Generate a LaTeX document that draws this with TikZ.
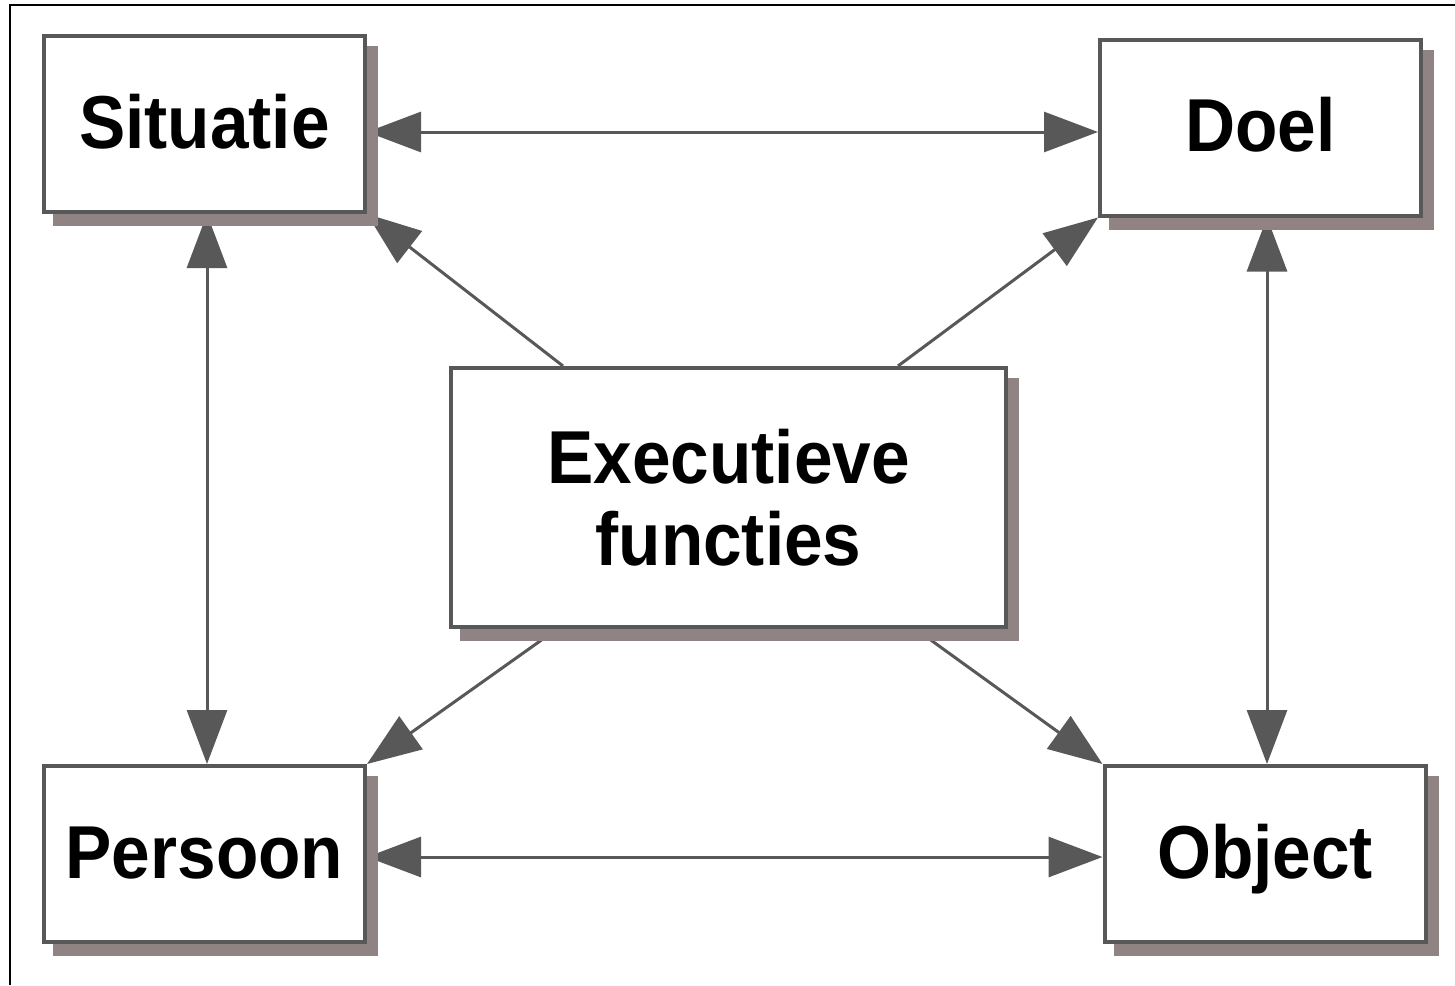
\documentclass[tikz,border=0pt]{standalone}
\usepackage{fontspec}
\newfontfamily\boxfont[FakeStretch=0.925]{Liberation Sans}
\usetikzlibrary{arrows.meta}
\pgfdeclarelayer{bg}
\pgfsetlayers{bg,main}

\definecolor{edgegrey}{RGB}{88,88,88}
\definecolor{shadowc}{RGB}{143,131,131}

\tikzset{
  box/.style={
    draw=edgegrey, line width=4pt, fill=white, rectangle,
    font=\boxfont\bfseries\fontsize{75}{82}\selectfont, text=black,
    align=center, inner sep=0pt,
    preaction={fill=shadowc, draw=shadowc, line width=4pt,
               transform canvas={shift={(11pt,-12pt)}}}
  },
  smallbox/.style={box, minimum width=321pt, minimum height=176pt,
                   text height=48pt, text depth=0pt},
  link/.style={draw=edgegrey, line width=3pt,
               >={Triangle[length=54pt,width=40pt]}}
}

\begin{document}
\begin{tikzpicture}[x=1pt,y=-1pt]
  \useasboundingbox (0,0) rectangle (1455,985);

  % frame lines along the top and left edge
  \draw[line width=2pt, black] (10,985) -- (10,5) -- (1455,5);

  % boxes
  \node[smallbox] (sit)  at (204.5,124)  {Situatie};
  \node[smallbox] (doel) at (1260.5,127.5) {Doel};
  \node[smallbox] (pers) at (204.5,854)  {Persoon};
  \node[smallbox] (obj)  at (1265,854)   {Object};
  \node[box, minimum width=555pt, minimum height=259pt]
       (exec) at (728.5,497.5) {Executieve\\functies};

  % connectors, kept below the boxes and their shadows
  \begin{pgfonlayer}{bg}
    \draw[link,<->] ([yshift=-8pt]sit.east) -- ([yshift=-4.5pt]doel.west);
    \draw[link,<->] ([yshift=-3pt]pers.east) -- ([yshift=-3pt]obj.west);
    \draw[link,<->] ([xshift=2.5pt]sit.south) -- ([xshift=2.5pt]pers.north);
    \draw[link,<->] ([xshift=6.5pt]doel.south) -- ([xshift=2pt]obj.north);
    \draw[link,->] ([xshift=114pt]exec.north west) -- (sit.south east);
    \draw[link,->] ([xshift=-110pt]exec.north east) -- (doel.south west);
    \draw[link,->] ([xshift=108pt]exec.south west) -- (pers.north east);
    \draw[link,->] ([xshift=-92.5pt]exec.south east) -- (obj.north west);
  \end{pgfonlayer}
\end{tikzpicture}
\end{document}
